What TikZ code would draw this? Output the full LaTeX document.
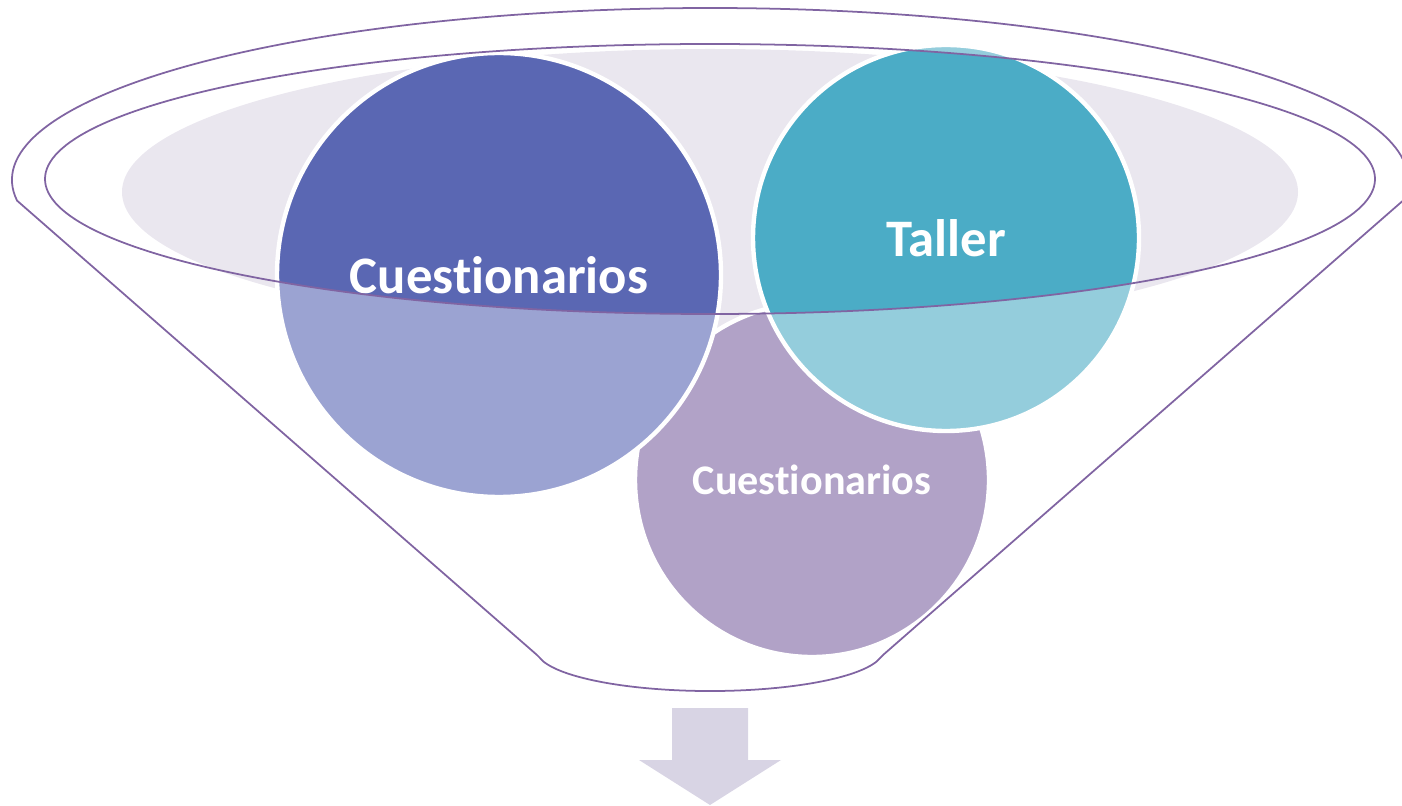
\documentclass[tikz,border=0pt]{standalone}
\usepackage{fontspec}
\setmainfont{Carlito}[Ligatures=NoCommon]
\usepackage{xcolor}
\usepackage{tikz}
\usetikzlibrary{positioning,calc}
\definecolor{rimline}{HTML}{8064A2}
\definecolor{rimfill}{HTML}{EAE7EF}
\definecolor{bluedark}{HTML}{5A67B3}
\definecolor{bluelight}{HTML}{9BA3D2}
\definecolor{tealdark}{HTML}{4BACC6}
\definecolor{teallight}{HTML}{94CDDC}
\definecolor{lilac}{HTML}{B1A2C7}
\definecolor{arrowfill}{HTML}{D8D4E4}
\newcommand{\ringpath}{(14.2,12.52) ellipse [x radius=13.3, y radius=2.7]}

\begin{document}
\begin{tikzpicture}[
  rim/.style={draw=rimline, line width=1pt},
  bubble/.style={circle, draw=white, line width=2.5pt, inner sep=0pt,
                 text=white, font=\bfseries, align=center},
]
\useasboundingbox (0,0) rectangle (28.04,16.1);
\clip (0,0) rectangle (28.04,16.1);

% Centres of the three circles
\coordinate (cq) at (9.98,10.6);
\coordinate (ct) at (18.92,11.34);
\coordinate (cp) at (16.24,6.5);

% Shaded inside of the rim
\fill[rimfill] (14.2,12.26) ellipse [x radius=11.76, y radius=2.86];

% Lower circle
\fill[lilac] (cp) circle (3.54);
\node[bubble, minimum size=7.08cm] (cues2) at (cp)
  {\fontsize{24}{28}\selectfont Cuestionarios};

% Left circle
\fill[bluelight] (cq) circle (4.44);
\begin{scope}
  \clip \ringpath;
  \fill[bluedark] (cq) circle (4.44);
\end{scope}
\node[bubble, minimum size=8.88cm] (cues1) at (cq)
  {\fontsize{30}{36}\selectfont Cuestionarios};

% Right circle
\fill[teallight] (ct) circle (3.86);
\begin{scope}
  \clip \ringpath;
  \fill[tealdark] (ct) circle (3.86);
\end{scope}
\node[bubble, minimum size=7.72cm] (taller) at (ct)
  {\fontsize{30}{36}\selectfont Taller};

% Inner rim
\draw[rim] \ringpath;

% Funnel outline
\coordinate (botL) at (10.74,3.0);
\coordinate (botR) at (17.66,3.0);
\draw[rim] (14.2,12.5) ++(186.9:13.96 and 3.44)
  arc [start angle=186.9, end angle=-6.9, x radius=13.96, y radius=3.44]
  -- (botR) -- (17.52,2.86)
  arc [start angle=-17, end angle=-163, x radius=3.472, y radius=0.82]
  -- (botL) -- cycle;

% Output arrow
\fill[arrowfill] (13.44,1.94) -- (14.96,1.94) -- (14.96,0.9) -- (15.62,0.9)
  -- (14.2,0) -- (12.78,0.9) -- (13.44,0.9) -- cycle;
\end{tikzpicture}
\end{document}
